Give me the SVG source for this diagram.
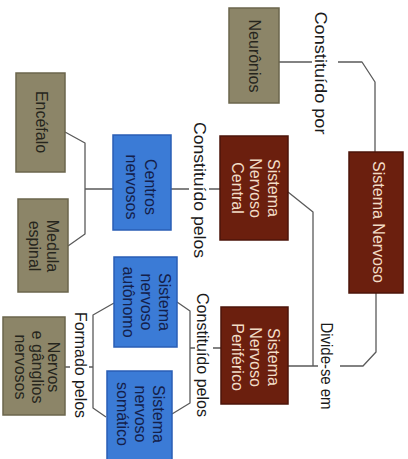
<svg xmlns="http://www.w3.org/2000/svg" width="408" height="459" viewBox="0 0 408 459">
  <style>
    text { font-family: "Liberation Sans", Arial, sans-serif; text-anchor: middle; dominant-baseline: central; }
    .box-tan { fill: #8c8568; stroke: #6b664c; stroke-width: 1.5; }
    .box-red { fill: #6b1f0e; stroke: #4c150a; stroke-width: 1.5; }
    .box-blue { fill: #3b7bd6; stroke: #2a5eb5; stroke-width: 1.5; }
    .t-tan { fill: #26251d; font-size: 16px; }
    .t-red { fill: #f2dcc6; font-size: 16px; }
    .t-blue { fill: #14204a; font-size: 16px; }
    .label { fill: #1a1a1a; font-size: 16px; }
    .link { fill: none; stroke: #5a5a5a; stroke-width: 1.3; stroke-linejoin: round; }
  </style>

  <rect width="408" height="459" fill="#ffffff"/>

  <!-- connectors -->
  <g id="connectors">
    <!-- Neurônios — Sistema Nervoso -->
    <path class="link" d="M279,62 H312 M338,62 H362 L375,82 V152"/>
    <!-- Sistema Nervoso — SNC / SNP -->
    <path class="link" d="M376,293 V352 L363,366 H340 M318,366 H288"/>
    <path class="link" d="M288,192 L313,212 V366"/>
    <!-- SNC — Centros nervosos -->
    <path class="link" d="M171,189 H189 M209,189 H220"/>
    <!-- Centros nervosos — Encéfalo / Medula espinal -->
    <path class="link" d="M113,189 H85 M65,132 L85,143 V234 L68,246"/>
    <!-- SNP — autônomo / somático -->
    <path class="link" d="M221,348 H213 M195,348 H190 M177,302 L190,311 V403 L172,414"/>
    <!-- autônomo / somático — Nervos e gânglios -->
    <path class="link" d="M114,303 L93,315 V408 L106,417 M93,367 H89 M70,367 H64"/>
  </g>

  <!-- connector labels -->
  <g id="labels">
    <text class="label" transform="translate(320,73) rotate(90)" textLength="123" lengthAdjust="spacingAndGlyphs">Constituído por</text>
    <text class="label" transform="translate(199,190) rotate(90)" textLength="136" lengthAdjust="spacingAndGlyphs">Constituído pelos</text>
    <text class="label" transform="translate(202,355) rotate(90)" textLength="124" lengthAdjust="spacingAndGlyphs">Constituído pelos</text>
    <text class="label" transform="translate(326,366) rotate(90)" textLength="87" lengthAdjust="spacingAndGlyphs">Divide-se em</text>
    <text class="label" transform="translate(80,365) rotate(90)" textLength="106" lengthAdjust="spacingAndGlyphs">Formado pelos</text>
  </g>

  <g id="neuronios">
    <rect class="box-tan" x="229" y="8" width="50" height="95"/>
    <text class="t-tan" transform="translate(254,56) rotate(90)">Neurônios</text>
  </g>

  <g id="sistema-nervoso">
    <rect class="box-red" x="349" y="152" width="54" height="141"/>
    <text class="t-red" transform="translate(378,222) rotate(90)">Sistema Nervoso</text>
  </g>

  <g id="snc">
    <rect class="box-red" x="220" y="136" width="68" height="104"/>
    <text class="t-red" transform="translate(273,188) rotate(90)">Sistema</text>
    <text class="t-red" transform="translate(255,188) rotate(90)">Nervoso</text>
    <text class="t-red" transform="translate(237,188) rotate(90)">Central</text>
  </g>

  <g id="snp">
    <rect class="box-red" x="221" y="307" width="67" height="97"/>
    <text class="t-red" transform="translate(273,357) rotate(90)">Sistema</text>
    <text class="t-red" transform="translate(255,357) rotate(90)">Nervoso</text>
    <text class="t-red" transform="translate(237,357) rotate(90)">Periférico</text>
  </g>

  <g id="centros-nervosos">
    <rect class="box-blue" x="113" y="135" width="58" height="95"/>
    <text class="t-blue" transform="translate(150,187) rotate(90)">Centros</text>
    <text class="t-blue" transform="translate(131,187) rotate(90)">nervosos</text>
  </g>

  <g id="encefalo">
    <rect class="box-tan" x="16" y="73" width="49" height="99"/>
    <text class="t-tan" transform="translate(41,122) rotate(90)">Encéfalo</text>
  </g>

  <g id="medula">
    <rect class="box-tan" x="18" y="199" width="50" height="93"/>
    <text class="t-tan" transform="translate(52,246) rotate(90)">Medula</text>
    <text class="t-tan" transform="translate(34,246) rotate(90)">espinal</text>
  </g>

  <g id="autonomo">
    <rect class="box-blue" x="114" y="257" width="63" height="90"/>
    <text class="t-blue" transform="translate(164,302) rotate(90)">Sistema</text>
    <text class="t-blue" transform="translate(146,302) rotate(90)">nervoso</text>
    <text class="t-blue" transform="translate(128,302) rotate(90)">autônomo</text>
  </g>

  <g id="somatico">
    <rect class="box-blue" x="107" y="371" width="65" height="92"/>
    <text class="t-blue" transform="translate(158,414) rotate(90)">Sistema</text>
    <text class="t-blue" transform="translate(140,414) rotate(90)">nervoso</text>
    <text class="t-blue" transform="translate(122,414) rotate(90)">somático</text>
  </g>

  <g id="nervos-ganglios">
    <rect class="box-tan" x="3" y="317" width="62" height="98"/>
    <text class="t-tan" transform="translate(53,367) rotate(90)">Nervos</text>
    <text class="t-tan" transform="translate(37,367) rotate(90)">e gânglios</text>
    <text class="t-tan" transform="translate(20,367) rotate(90)">nervosos</text>
  </g>
</svg>
